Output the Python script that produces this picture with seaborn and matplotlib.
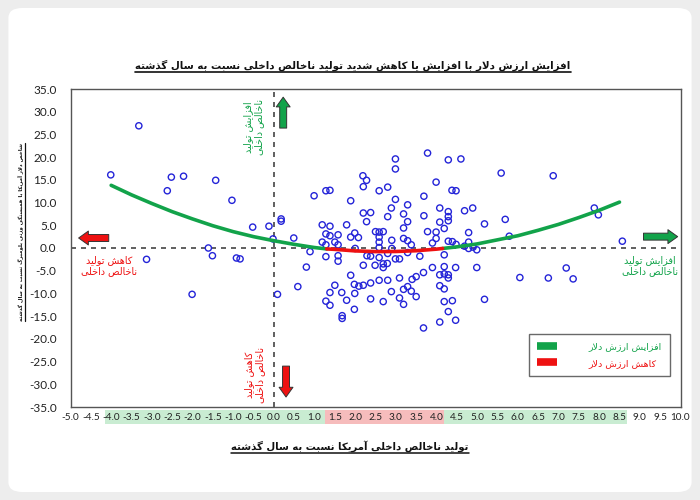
import numpy as np
import pandas as pd
import matplotlib
matplotlib.use("Agg")
import matplotlib.pyplot as plt
import matplotlib.transforms as mtransforms
from matplotlib.lines import Line2D
from matplotlib.patches import Rectangle, FancyBboxPatch
import seaborn as sns

# ---------------- data ----------------
gdp = [-3.32, -4.01, -2.52, -2.22, -2.62, -1.43, -1.03, -0.52, -0.12, 0.18, 0.18,
       -0.02, 0.49, -1.61, -1.51, -0.92, -0.83, -3.13, -2.01, 0.09, 0.59, 0.80,
       0.89, 0.99, 1.28, 1.38, 1.19, 1.38, 1.28, 1.38, 1.58, 1.19, 1.28, 1.50,
       1.28, 1.58, 1.58, 1.79, 1.89, 1.89, 1.99, 2.00, 1.89, 1.50, 1.38, 1.67,
       1.28, 1.38, 1.79, 1.98, 2.09, 2.20, 1.99, 1.68, 1.68, 1.98, 2.19, 2.28,
       2.20, 2.20, 2.28, 2.20, 2.29, 1.58, 2.08, 2.38, 2.38,
       3.78, 2.99, 2.99, 4.29, 4.60, 5.59, 3.99, 2.80, 2.59, 4.38, 4.48, 3.69,
       2.99, 2.89, 3.29, 4.08, 4.69, 4.89, 4.29, 4.29, 4.29, 3.69, 2.80, 3.19,
       3.29, 3.19, 4.08, 5.69, 5.18, 4.19, 2.50, 2.59, 2.69, 2.59, 2.59, 2.59,
       3.78, 3.99, 3.99, 3.19, 3.29, 3.38, 2.90, 3.90, 4.29, 4.39, 4.48, 4.79,
       4.79, 4.69, 4.79, 4.90, 4.99, 5.79, 2.90, 2.99, 2.80, 2.69, 2.69, 2.79,
       2.59, 2.49, 3.29, 3.59, 3.68, 3.90, 4.19, 4.19, 4.47, 4.99, 4.08, 4.19,
       4.29, 4.29, 3.50, 3.40, 3.09, 2.80, 2.59, 2.38, 4.08, 4.19, 3.29, 3.19,
       3.38, 3.50, 2.89, 3.09, 3.19, 2.69, 2.38, 4.39, 4.19, 5.18, 4.29, 4.08,
       4.47, 3.68, 6.05, 3.09,
       6.87, 7.88, 7.98, 8.57, 6.75, 7.19, 7.36]
dxy = [26.9, 16.1, 15.6, 15.8, 12.6, 14.9, 10.5, 4.6, 4.8, 6.4, 5.9,
       2.0, 2.2, 0.0, -1.7, -2.2, -2.4, -2.5, -10.2, -10.2, -8.5, -4.2,
       -0.8, 11.5, 12.6, 12.7, 5.1, 4.8, 3.1, 2.7, 2.9, 1.3, 0.7, 1.3,
       -1.9, -1.7, -2.9, 5.1, 10.4, 2.4, 3.3, -0.1, -6.0, -8.2, -9.8, -9.8,
       -11.7, -12.6, -11.5, -8.0, -8.4, -8.2, -10.0, -14.9, -15.5, -13.5, 15.9, 14.9,
       13.5, 7.7, 5.8, -3.8, -1.7, 0.7, 2.3, -1.8, 7.8,
       20.9, 19.6, 17.4, 19.4, 19.6, 16.5, 14.5, 13.4, 12.6, 12.7, 12.6, 11.4,
       10.7, 8.8, 9.5, 8.8, 8.2, 8.8, 8.0, 6.9, 6.0, 7.1, 6.9, 7.5,
       5.8, 4.4, 5.7, 6.3, 5.3, 4.3, 3.6, 3.5, 3.6, 2.4, 1.3, 0.1,
       3.6, 3.5, 2.1, 2.1, 1.6, 0.7, 1.7, 1.1, 1.5, 1.4, 0.8, 3.4,
       1.3, 0.4, -0.1, 0.2, -0.4, 2.6, -0.1, -2.4, -1.2, -3.5, -4.3, -3.4,
       -2.1, -3.8, -1.0, -1.8, -5.4, -4.3, -1.5, -4.1, -4.3, -4.3, -5.9, -5.7,
       -5.9, -6.6, -6.3, -6.9, -6.6, -7.1, -7.1, -7.7, -8.3, -9.0, -8.5, -9.1,
       -9.5, -10.7, -9.6, -11.0, -12.4, -11.8, -11.2, -11.6, -11.8, -11.3, -14.0, -16.3,
       -15.9, -17.6, -6.5, -2.4,
       15.9, 8.8, 7.3, 1.5, -6.6, -4.4, -6.8]

# trend curve (green = dollar up, red = dollar down)
green_left_x = [-4.0, -3.5, -3.0, -2.5, -2.0, -1.5, -1.0, -0.5, 0.0, 0.5, 1.0, 1.3]
green_left_y = [13.8, 11.7, 9.8, 8.0, 6.4, 4.9, 3.6, 2.5, 1.6, 0.8, 0.1, -0.2]
red_x = [1.3, 1.5, 2.0, 2.5, 3.0, 3.5, 4.0, 4.15]
red_y = [-0.2, -0.3, -0.64, -0.79, -0.77, -0.6, -0.25, -0.1]
green_right_x = [4.15, 4.5, 5.0, 5.5, 6.0, 6.5, 7.0, 7.5, 8.0, 8.5]
green_right_y = [-0.1, 0.25, 0.9, 1.8, 2.7, 3.9, 5.2, 6.7, 8.3, 10.1]

x_ticks = [v / 2 for v in range(-10, 21)]
y_ticks = [v * 5.0 for v in range(-7, 8)]
band_edges = [-4.16, 1.26, 4.19, 8.69]
band_colors = ["#c9ecd2", "#f6bcbc", "#c9ecd2"]

title_txt = "افزایش ارزش دلار با افزایش یا کاهش شدید تولید ناخالص داخلی نسبت به سال گذشته"
xlabel_txt = "تولید ناخالص داخلی آمریکا نسبت به سال گذشته"
ylabel_txt = "شاخص دلار آمریکا با همبستگی وزنی بلومبرگ نسبت به سال گذشته"
up_txt = "افزایش تولید\nناخالص داخلی"
down_txt = "کاهش تولید\nناخالص داخلی"
legend_labels = ["افزایش ارزش دلار", "کاهش ارزش دلار"]

GREEN = "#12a34a"
RED = "#ee1111"
BLUE = "#2424d8"

# ---------------- minimal Persian shaping ----------------
_F = {
    "ا": (0xFE8D, 0xFE8E, None, None), "آ": (0xFE81, 0xFE82, None, None),
    "ب": (0xFE8F, 0xFE90, 0xFE91, 0xFE92), "ت": (0xFE95, 0xFE96, 0xFE97, 0xFE98),
    "خ": (0xFEA5, 0xFEA6, 0xFEA7, 0xFEA8), "د": (0xFEA9, 0xFEAA, None, None),
    "ذ": (0xFEAB, 0xFEAC, None, None), "ر": (0xFEAD, 0xFEAE, None, None),
    "ز": (0xFEAF, 0xFEB0, None, None), "س": (0xFEB1, 0xFEB2, 0xFEB3, 0xFEB4),
    "ش": (0xFEB5, 0xFEB6, 0xFEB7, 0xFEB8), "ص": (0xFEB9, 0xFEBA, 0xFEBB, 0xFEBC),
    "ف": (0xFED1, 0xFED2, 0xFED3, 0xFED4), "ل": (0xFEDD, 0xFEDE, 0xFEDF, 0xFEE0),
    "م": (0xFEE1, 0xFEE2, 0xFEE3, 0xFEE4), "ن": (0xFEE5, 0xFEE6, 0xFEE7, 0xFEE8),
    "ه": (0xFEE9, 0xFEEA, 0xFEEB, 0xFEEC), "و": (0xFEED, 0xFEEE, None, None),
    "ی": (0xFBFC, 0xFBFD, 0xFBFE, 0xFBFF), "ک": (0xFB8E, 0xFB8F, 0xFB90, 0xFB91),
    "گ": (0xFB92, 0xFB93, 0xFB94, 0xFB95),
}
_LA = {"ا": (0xFEFB, 0xFEFC), "آ": (0xFEF5, 0xFEF6)}


def _shape_line(s):
    res = []
    n = len(s)
    i = 0
    while i < n:
        c = s[i]
        if c not in _F:
            res.append(c)
            i += 1
            continue
        prev = s[i - 1] if i > 0 else None
        jp = prev is not None and prev in _F and _F[prev][2] is not None
        if c == "ل" and i + 1 < n and s[i + 1] in _LA:
            iso, fin = _LA[s[i + 1]]
            res.append(chr(fin if jp else iso))
            i += 2
            continue
        nxt = s[i + 1] if i + 1 < n else None
        jn = _F[c][2] is not None and nxt is not None and nxt in _F
        iso, fin, ini, med = _F[c]
        if jp and jn:
            g = med
        elif jp:
            g = fin
        elif jn:
            g = ini
        else:
            g = iso
        res.append(chr(g))
        i += 1
    return "".join(reversed(res))


def fa(s):
    return "\n".join(_shape_line(l) for l in s.split("\n"))


# ---------------- figure ----------------
sns.set_theme(style="white")
plt.rcParams["font.family"] = ["Lato", "DejaVu Sans"]
plt.rcParams["axes.unicode_minus"] = False

W, H = 700, 500
fig = plt.figure(figsize=(7, 5), dpi=100)
fig.patch.set_facecolor("#ededed")
fig.add_artist(FancyBboxPatch((0.012, 0.016), 0.976, 0.968,
                              boxstyle="round,pad=0,rounding_size=0.02",
                              transform=fig.transFigure, fc="white", ec="none", zorder=0))

ax = fig.add_axes([70.5 / W, 1 - 407 / H, 610 / W, 318 / H])
ax.set_facecolor("white")

df = pd.DataFrame({"gdp": gdp, "dxy": dxy})
ax.axhline(0, color="#444444", ls=(0, (3, 3)), lw=1.2, zorder=1)
ax.axvline(0, color="#444444", ls=(0, (3, 3)), lw=1.2, zorder=1)

sns.scatterplot(data=df, x="gdp", y="dxy", ax=ax, s=20, legend=False, zorder=3)
pts = ax.collections[-1]
pts.set_facecolor("none")
pts.set_edgecolor(BLUE)
pts.set_linewidth(1.0)

sns.lineplot(x=green_left_x, y=green_left_y, ax=ax, color=GREEN, lw=2.6, zorder=4)
sns.lineplot(x=green_right_x, y=green_right_y, ax=ax, color=GREEN, lw=2.6, zorder=4)
sns.lineplot(x=red_x, y=red_y, ax=ax, color=RED, lw=2.6, zorder=4)

ax.set_xlim(-5, 10)
ax.set_ylim(-35, 35)
ax.set_xticks(x_ticks)
ax.set_yticks(y_ticks)
ax.set_xticklabels([f"{v:.1f}" for v in x_ticks])
ax.set_yticklabels([f"{v:.1f}" for v in y_ticks])
ax.tick_params(axis="x", length=0, labelsize=7.2, pad=4, colors="#222222")
ax.tick_params(axis="y", length=0, labelsize=8.5, pad=10, colors="#222222")
ax.set_xlabel("")
ax.set_ylabel("")
for sp in ax.spines.values():
    sp.set_color("#555555")
    sp.set_linewidth(1.0)

# colored bands behind the x tick labels
trans = mtransforms.blended_transform_factory(ax.transData, ax.transAxes)
for i, col in enumerate(band_colors):
    ax.add_patch(Rectangle((band_edges[i], -0.053), band_edges[i + 1] - band_edges[i], 0.042,
                           transform=trans, clip_on=False, fc=col, ec="none", zorder=0))

# arrows
def block_arrow(x0, y0, x1, y1, col):
    ax.annotate("", xy=(x1, y1), xytext=(x0, y0),
                arrowprops=dict(arrowstyle="simple,head_length=0.7,head_width=1.0,tail_width=0.5",
                                fc=col, ec="#333333", lw=0.7, shrinkA=0, shrinkB=0,
                                mutation_scale=10), zorder=5)

block_arrow(0.23, 26.4, 0.23, 33.2, GREEN)
block_arrow(0.30, -26.0, 0.30, -32.8, RED)
block_arrow(-4.06, 2.2, -4.80, 2.2, RED)
block_arrow(9.09, 2.5, 9.93, 2.5, GREEN)

lab_kw = dict(family="DejaVu Sans", fontsize=6.9, ha="center", va="center", linespacing=1.15)
ax.text(-0.49, 26.6, fa(up_txt), color=GREEN, rotation=90, **lab_kw)
ax.text(-0.47, -28.0, fa(down_txt), color=RED, rotation=90, **lab_kw)
ax.text(-4.04, -3.9, fa(down_txt), color=RED, **lab_kw)
ax.text(9.25, -3.9, fa(up_txt), color=GREEN, **lab_kw)

# legend
handles = [Line2D([0], [0], color=GREEN, lw=5.5, solid_capstyle="butt"),
           Line2D([0], [0], color=RED, lw=5.5, solid_capstyle="butt")]
leg = ax.legend(handles, [fa(t) for t in legend_labels], loc="lower right",
                bbox_to_anchor=(0.983, 0.097), borderaxespad=0, frameon=True, fancybox=False,
                edgecolor="#444444", handlelength=2.1, handletextpad=3.3, labelspacing=0.8,
                borderpad=0.9, prop={"family": "DejaVu Sans", "size": 6.8},
                labelcolor=[GREEN, RED])
leg.get_frame().set_linewidth(1.0)

# titles
t_title = fig.text(353 / W, 1 - 65 / H, fa(title_txt), ha="center", va="center",
                   fontsize=7.4, fontweight="bold", family="DejaVu Sans", color="#111111")
t_x = fig.text(350 / W, 1 - 446 / H, fa(xlabel_txt), ha="center", va="center",
               fontsize=7.3, fontweight="bold", family="DejaVu Sans", color="#111111")
t_y = fig.text(20.5 / W, 1 - 232 / H, fa(ylabel_txt), ha="center", va="center", rotation=90,
               fontsize=3.9, fontweight="bold", family="DejaVu Sans", color="#111111")

fig.canvas.draw()
r = fig.canvas.get_renderer()

def underline(t, gap, lw, vertical=False):
    bb = t.get_window_extent(r)
    if vertical:
        x = bb.x1 + gap
        fig.add_artist(Line2D([x / W, x / W], [bb.y0 / H, bb.y1 / H],
                              transform=fig.transFigure, color="#111111", lw=lw))
    else:
        y = bb.y0 - gap
        fig.add_artist(Line2D([bb.x0 / W, bb.x1 / W], [y / H, y / H],
                              transform=fig.transFigure, color="#111111", lw=lw))

underline(t_title, 1.5, 1.2)
underline(t_x, 1.5, 1.1)
underline(t_y, 1.5, 0.9, vertical=True)

fig.savefig("out.png", dpi=100, facecolor=fig.get_facecolor())
